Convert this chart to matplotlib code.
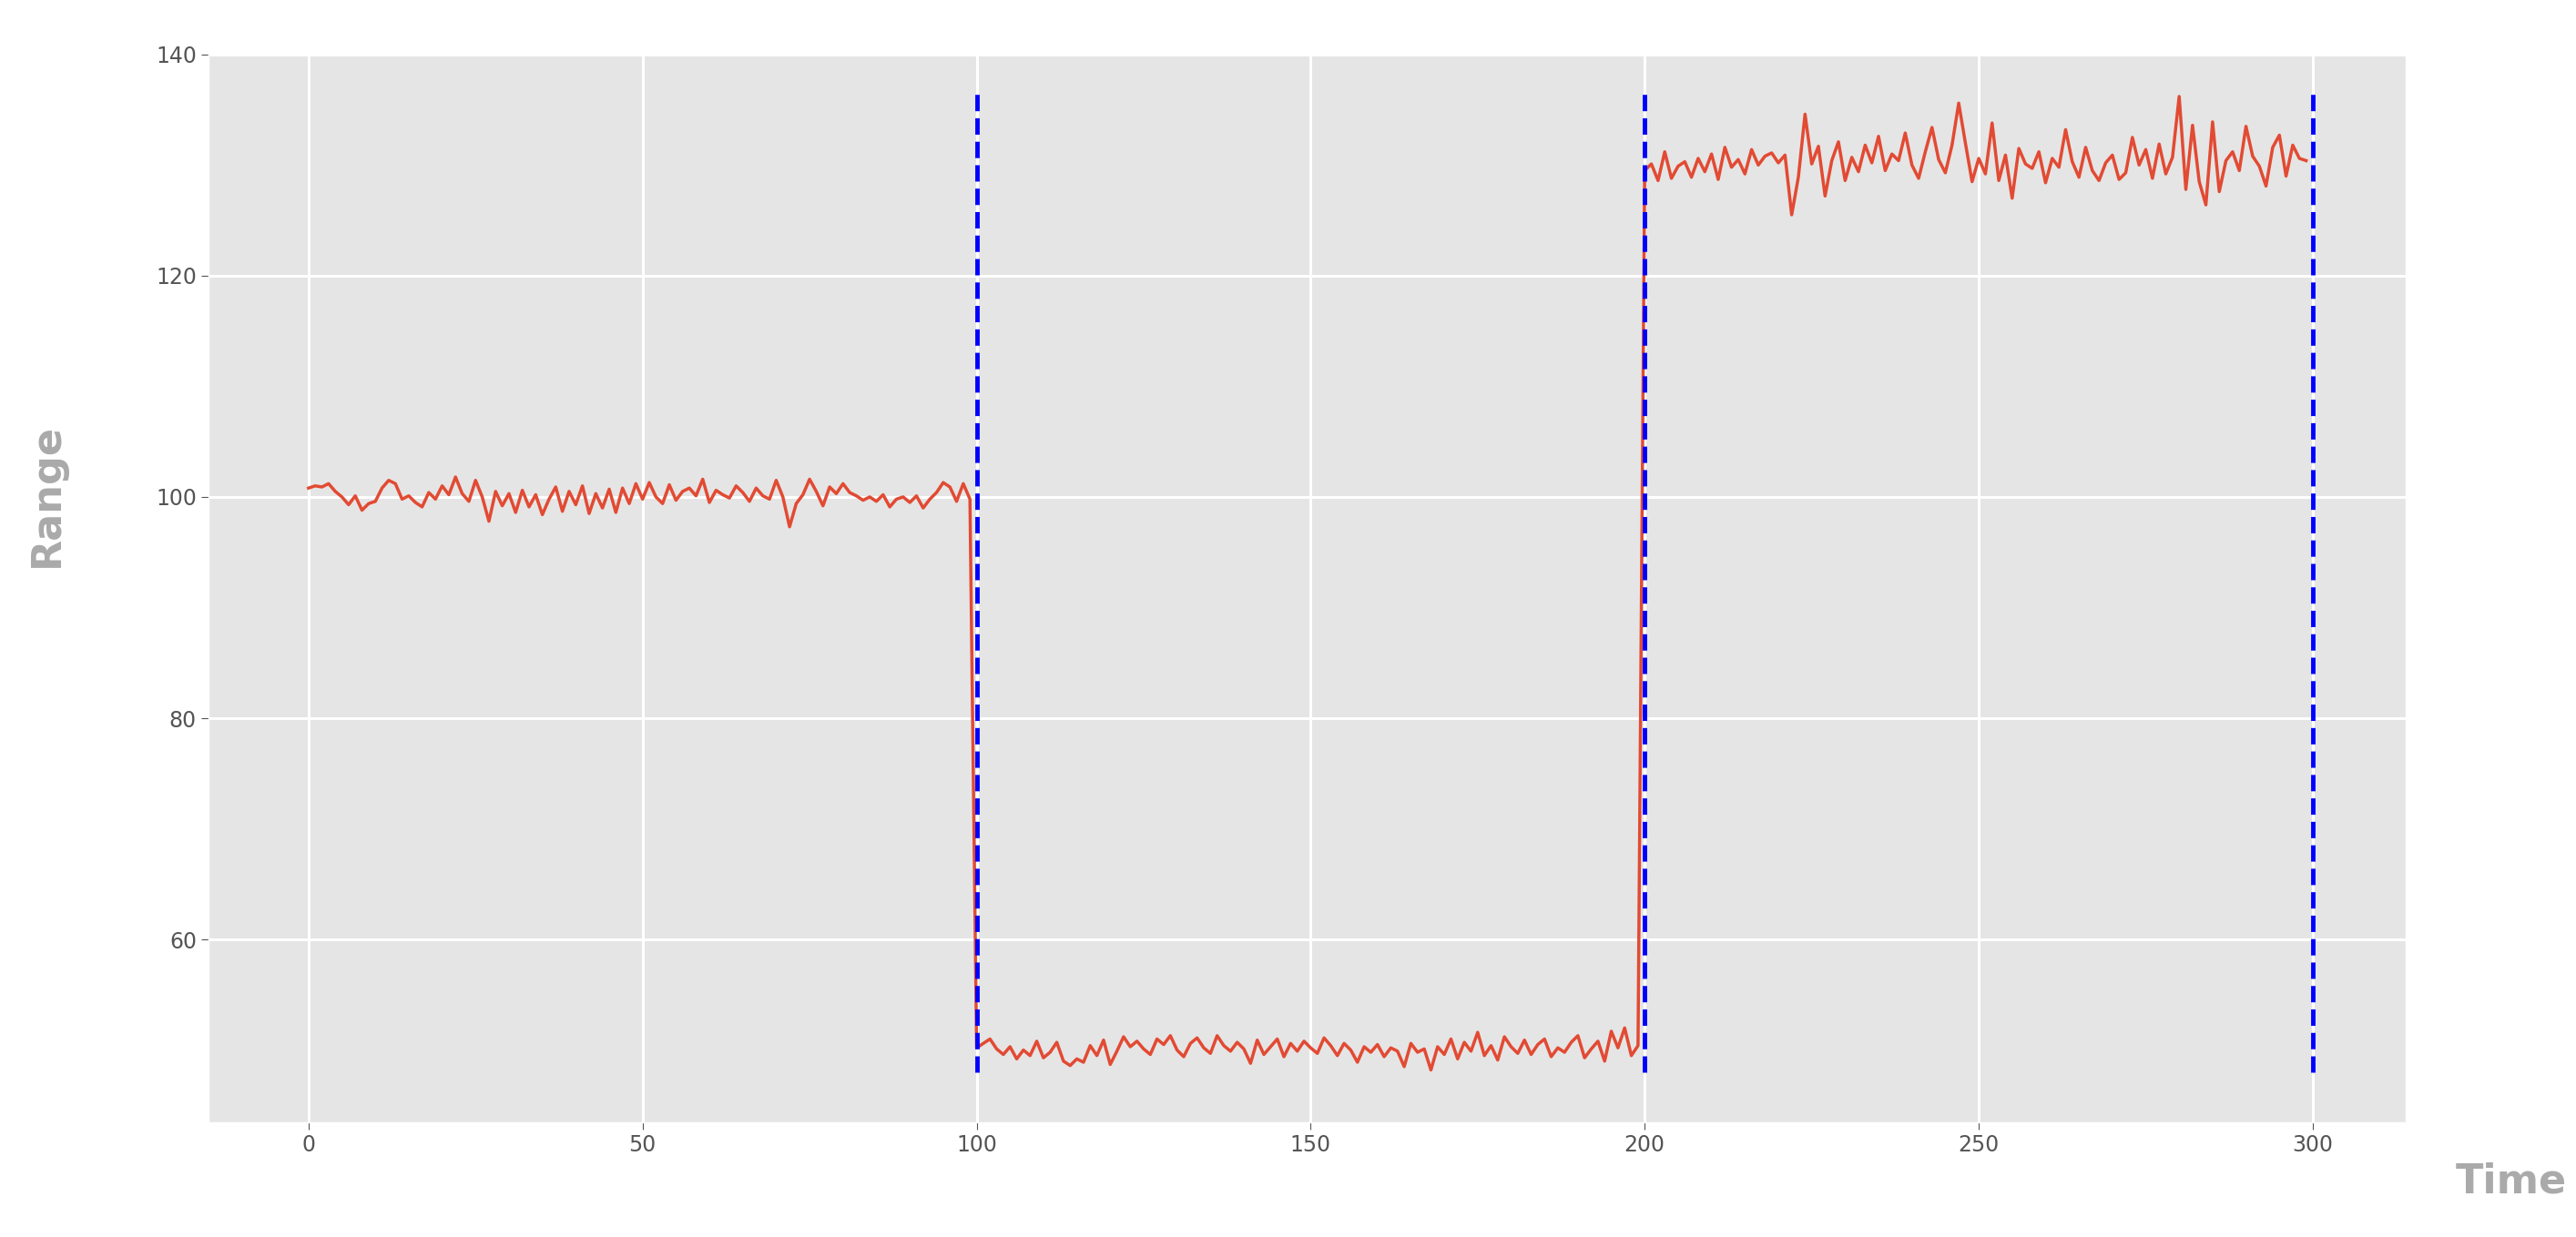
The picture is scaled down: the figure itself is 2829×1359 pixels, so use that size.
import matplotlib
matplotlib.use("Agg")
import matplotlib.pyplot as plt
import numpy as np

seg1 = [100.8,101.0,100.9,101.2,100.5,100.0,99.3,100.1,98.8,99.4,
        99.6,100.8,101.5,101.2,99.8,100.1,99.5,99.1,100.4,99.8,
        101.0,100.2,101.8,100.3,99.6,101.5,100.0,97.8,100.5,99.2,
        100.3,98.6,100.6,99.1,100.2,98.4,99.8,100.9,98.7,100.5,
        99.3,101.0,98.5,100.3,99.0,100.7,98.6,100.8,99.4,101.2,
        99.8,101.3,100.0,99.4,101.1,99.7,100.5,100.8,100.1,101.6,
        99.5,100.6,100.2,99.9,101.0,100.4,99.6,100.8,100.1,99.8,
        101.5,100.0,97.3,99.4,100.2,101.6,100.5,99.2,100.9,100.3,
        101.2,100.4,100.1,99.7,100.0,99.6,100.2,99.1,99.8,100.0,
        99.5,100.1,99.0,99.8,100.4,101.3,100.9,99.6,101.2,99.8]
seg2 = [50.2,50.6,51.0,50.1,49.6,50.3,49.2,50.0,49.5,50.8,
        49.3,49.8,50.7,49.0,48.6,49.2,48.9,50.4,49.5,50.9,
        48.7,49.9,51.2,50.3,50.8,50.1,49.6,51.0,50.5,51.3,
        50.0,49.4,50.6,51.1,50.2,49.7,51.3,50.4,49.9,50.7,
        50.1,48.8,50.9,49.6,50.3,51.0,49.4,50.6,49.9,50.8,
        50.2,49.7,51.1,50.4,49.5,50.6,50.0,48.9,50.3,49.8,
        50.5,49.4,50.2,49.9,48.5,50.6,49.8,50.1,48.2,50.3,
        49.6,51.0,49.2,50.7,49.9,51.6,49.5,50.4,49.1,51.2,
        50.3,49.7,50.9,49.6,50.5,51.0,49.4,50.2,49.8,50.7,
        51.3,49.3,50.1,50.8,49.0,51.7,50.2,52.0,49.5,50.4]
seg3 = [129.5,130.1,128.6,131.2,128.8,129.9,130.3,128.9,130.6,129.4,
        131.0,128.7,131.6,129.8,130.5,129.2,131.4,130.0,130.8,131.1,
        130.2,130.9,125.5,128.9,134.6,130.1,131.7,127.2,130.4,132.1,
        128.6,130.7,129.4,131.8,130.2,132.6,129.5,131.0,130.4,132.9,
        130.0,128.8,131.2,133.4,130.5,129.3,131.8,135.6,132.0,128.5,
        130.6,129.2,133.8,128.6,130.9,127.0,131.5,130.1,129.7,131.2,
        128.4,130.6,129.8,133.2,130.3,128.9,131.6,129.5,128.6,130.2,
        130.9,128.7,129.3,132.5,130.0,131.4,128.8,131.9,129.2,130.7,
        136.2,127.8,133.6,128.5,126.4,133.9,127.6,130.4,131.2,129.5,
        133.5,130.8,129.9,128.1,131.6,132.7,129.0,131.8,130.6,130.4]

values = seg1 + seg2 + seg3
time = np.arange(len(values))
change_points = [100, 200, 300]

plt.style.use("ggplot")
fig = plt.figure(figsize=(28.29, 13.59), dpi=100)
ax = fig.add_axes([0.081, 0.093, 0.853, 0.863])
ax.plot(time, values, color="#E24A33", linewidth=2.5)
ax.vlines(change_points, 48, 136.5, colors="blue", linestyles="--", linewidth=3.5)
ax.set_xlim(-14.95, 313.95)
ax.set_ylim(43.5, 140)
ax.set_yticks([60, 80, 100, 120, 140])
ax.tick_params(labelsize=17, colors="#555555", length=6)
ax.grid(color="white", linewidth=2.2)
fig.text(0.018, 0.60, "Range", rotation=90, fontsize=32, fontweight="bold",
         color="#aaaaaa", ha="center", va="center")
fig.text(0.975, 0.045, "Time", fontsize=32, fontweight="bold",
         color="#aaaaaa", ha="center", va="center")
fig.savefig("out.png", dpi=100)
